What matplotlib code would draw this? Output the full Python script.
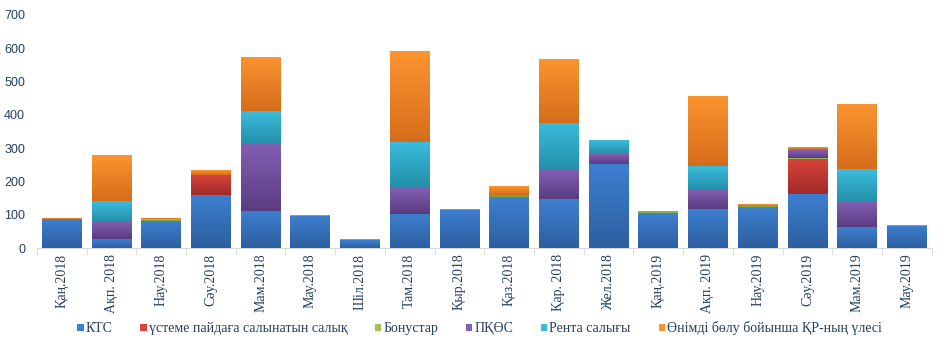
import numpy as np
import matplotlib
matplotlib.use("Agg")
import matplotlib.pyplot as plt
from matplotlib.colors import LinearSegmentedColormap

months = ["Қаң.2018", "Ақп. 2018", "Нау.2018", "Сәу.2018", "Мам.2018", "Мау.2018",
          "Шіл.2018", "Там.2018", "Қыр.2018", "Қаз.2018", "Қар. 2018", "Жел.2018",
          "Қаң.2019", "Ақп. 2019", "Нау.2019", "Сәу.2019", "Мам.2019", "Мау.2019"]

ktc     = [87, 27, 82, 159, 112, 97, 24, 103, 115, 152, 147, 252, 104, 117, 122, 162, 63, 67]
ustem   = [0, 0, 0, 62, 0, 0, 0, 0, 0, 0, 0, 0, 0, 0, 0, 106, 0, 0]
bonus   = [0, 0, 5, 0, 0, 0, 0, 0, 0, 5, 0, 0, 3, 0, 5, 2, 0, 0]
pkos    = [0, 52, 0, 0, 205, 0, 0, 80, 0, 0, 89, 30, 0, 59, 0, 24, 78, 0]
renta   = [0, 63, 0, 0, 95, 0, 0, 135, 0, 3, 139, 42, 0, 71, 0, 5, 96, 0]
share   = [2, 137, 2, 13, 163, 2, 3, 273, 2, 26, 192, 0, 3, 209, 5, 5, 195, 3]

names = ["КТС", "үстеме пайдаға салынатын салық", "Бонустар", "ПҚӨС",
         "Рента салығы", "Өнімді бөлу бойынша ҚР-ның үлесі"]
series = [ktc, ustem, bonus, pkos, renta, share]
# (top colour, bottom colour) for the Excel-like gradient
shades = [("#3d7fd0", "#2d5f9f"), ("#d9433b", "#a02b2a"), ("#9bc455", "#77a03a"),
          ("#8360b3", "#5a3c82"), ("#3bbbdc", "#2390aa"), ("#fa9430", "#d66d1b")]

fig = plt.figure(figsize=(9.44, 3.55), dpi=100)
ax = fig.add_axes([0.039, 0.301, 0.948, 0.657])

x = np.arange(len(months))
bottom = np.zeros(len(months))
handles = []
for vals, name, (top_c, bot_c) in zip(series, names, shades):
    vals = np.array(vals, dtype=float)
    bars = ax.bar(x, vals, 0.8, bottom=bottom, color=top_c, label=name, zorder=2)
    handles.append(bars)
    cmap = LinearSegmentedColormap.from_list("g", [bot_c, top_c])
    grad = np.linspace(0, 1, 64).reshape(-1, 1)
    for rect in bars:
        h = rect.get_height()
        if h <= 0:
            continue
        x0 = rect.get_x()
        y0 = rect.get_y()
        im = ax.imshow(grad, cmap=cmap, origin="lower", aspect="auto",
                       extent=(x0, x0 + rect.get_width(), y0, y0 + h), zorder=3)
        im.set_clip_path(rect)
    bottom += vals

ax.set_xlim(-0.5, len(months) - 0.5)
ax.set_ylim(0, 700)
ax.set_yticks(range(0, 701, 100))

lab_color = "#243f60"
ax.set_xticks(x)
ax.set_xticklabels(months, rotation=90, fontsize=10, family="Liberation Serif",
                   color=lab_color)
ax.set_xticks(np.arange(-0.5, len(months), 1), minor=True)
ax.tick_params(axis="x", which="major", length=0, pad=4)
ax.tick_params(axis="x", which="minor", length=5, color="#d9d9d9", direction="out")
ax.tick_params(axis="y", length=0, labelsize=9, labelcolor=lab_color, pad=8.5)
for t in ax.get_yticklabels():
    t.set_family("Liberation Sans")

for s in ["top", "right", "left"]:
    ax.spines[s].set_visible(False)
ax.spines["bottom"].set_color("#d9d9d9")

fig.legend(handles=handles, labels=names, loc="center", bbox_to_anchor=(0.508, 0.075),
           ncol=6, frameon=False, handlelength=0.45, handleheight=0.45,
           handletextpad=0.15, columnspacing=2.0,
           prop={"family": "Liberation Serif", "size": 10}, labelcolor=lab_color)

fig.savefig("out.png", dpi=100)
